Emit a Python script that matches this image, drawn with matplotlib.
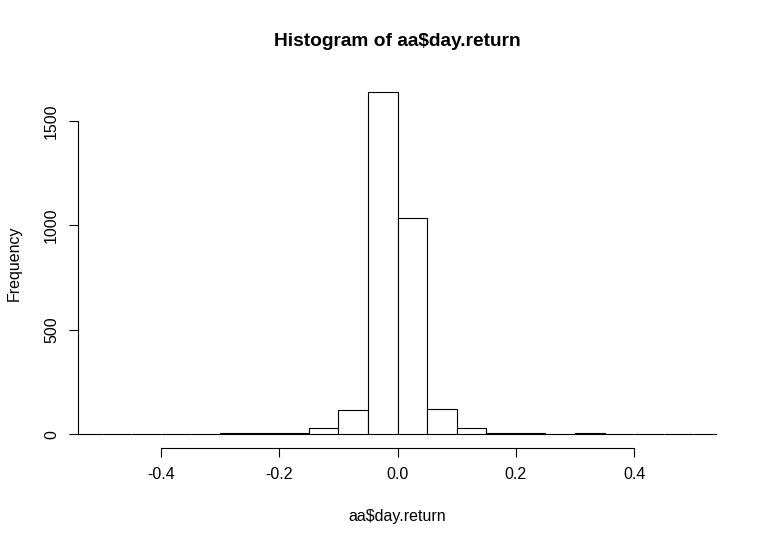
import matplotlib
matplotlib.use("Agg")
import matplotlib.pyplot as plt
import numpy as np

plt.rcParams['font.family'] = ['Liberation Sans', 'DejaVu Sans']

# Histogram data: bin edges (width 0.05) and counts
breaks = [-0.60, -0.55, -0.50, -0.45, -0.40, -0.35, -0.30, -0.25, -0.20, -0.15,
          -0.10, -0.05, 0.00, 0.05, 0.10, 0.15, 0.20, 0.25, 0.30, 0.35,
          0.40, 0.45, 0.50, 0.55, 0.60]
counts = [0, 0, 0, 0, 0, 0, 5, 5, 5, 29,
          117, 1640, 1036, 120, 29, 6, 5, 0, 5, 0,
          0, 0, 0, 0]
x_ticks = [-0.4, -0.2, 0.0, 0.2, 0.4]
x_tick_labels = ["-0.4", "-0.2", "0.0", "0.2", "0.4"]
y_ticks = [0, 500, 1000, 1500]
y_tick_labels = ["0", "500", "1000", "1500"]
title = "Histogram of aa$day.return"
xlabel = "aa$day.return"
ylabel = "Frequency"

W, H = 757, 546
fig = plt.figure(figsize=(W / 100, H / 100), dpi=100)
left, right, top, bottom = 78, 717, 78, 448
ax = fig.add_axes([left / W, 1 - bottom / H, (right - left) / W, (bottom - top) / H])

edges = np.array(breaks)
widths = np.diff(edges)
ax.bar(edges[:-1], counts, width=widths, align='edge', facecolor='white',
       edgecolor='black', linewidth=0.8)

ymax = max(counts)
ax.set_xlim(-0.54, 0.54)
ax.set_ylim(-0.04 * ymax, 1.04 * ymax)

for s in ['top', 'right']:
    ax.spines[s].set_visible(False)
ax.spines['bottom'].set_bounds(x_ticks[0], x_ticks[-1])
ax.spines['left'].set_bounds(y_ticks[0], y_ticks[-1])
for s in ['bottom', 'left']:
    ax.spines[s].set_linewidth(0.8)

ax.set_xticks(x_ticks)
ax.set_xticklabels(x_tick_labels)
ax.set_yticks(y_ticks)
ax.set_yticklabels(y_tick_labels, rotation=90, va='center')
ax.tick_params(axis='both', direction='out', length=6.2, width=0.8,
               labelsize=11.5, pad=7.5, colors='black')

fig.text((left + right) / 2 / W, 1 - 41 / H, title, ha='center', va='center',
         fontsize=13.8, fontweight='bold')
fig.text((left + right) / 2 / W, 1 - 517 / H, xlabel, ha='center', va='center',
         fontsize=11.5)
fig.text(14 / W, 1 - ((top + bottom) / 2) / H, ylabel, ha='center', va='center',
         rotation=90, fontsize=11.5)

fig.savefig("out.png", dpi=100, facecolor='white')
